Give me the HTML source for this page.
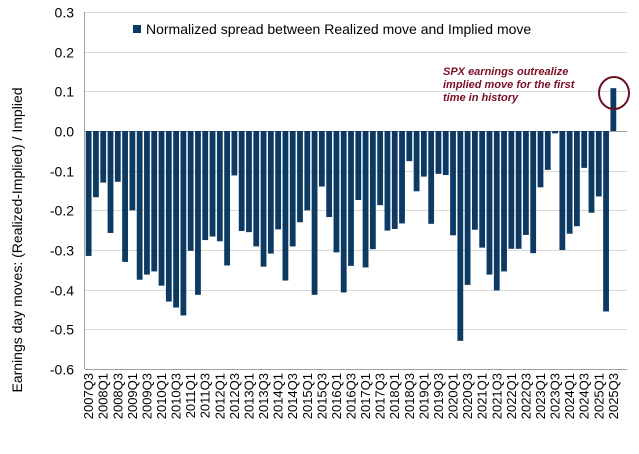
<!DOCTYPE html>
<html><head><meta charset="utf-8"><style>
body{margin:0;background:#fff;}
svg{display:block;font-family:"Liberation Sans",Arial,sans-serif;}
</style></head><body>
<svg id="chart" width="639" height="454" viewBox="0 0 639 454" xmlns="http://www.w3.org/2000/svg">
<g id="grid"></g>
<g id="bars"></g>
<g id="yticks"></g>
<g id="xticks"></g>
<line x1="84.5" y1="12" x2="84.5" y2="369" stroke="#a0a0a0" stroke-width="1"/>
<text transform="translate(22,240) rotate(-90)" text-anchor="middle" font-size="14" fill="#000">Earnings day moves: (Realized-Implied) / Implied</text>
<g>
<rect x="133" y="25" width="8" height="8" fill="#0d3a63"/>
<text x="146" y="34" font-size="14" fill="#000">Normalized spread between Realized move and Implied move</text>
</g>
<g font-size="11" font-style="italic" font-weight="bold" fill="#7a0e24">
<text x="443" y="75">SPX earnings outrealize</text>
<text x="443" y="88">implied move for the first</text>
<text x="443" y="101">time in history</text>
</g>
<ellipse cx="614" cy="93" rx="15" ry="16" fill="none" stroke="#6b0f1f" stroke-width="2"/>
<script>
const categories=[];
for(let y=2007;y<=2025;y++)for(let q=1;q<=4;q++){if((y===2007&&q<3)||(y===2025&&q>3))continue;categories.push(y+"Q"+q);}
const values=[-0.315,-0.167,-0.13,-0.257,-0.128,-0.33,-0.20,-0.375,-0.362,-0.354,-0.39,-0.43,-0.445,-0.465,-0.302,-0.413,-0.275,-0.266,-0.278,-0.339,-0.112,-0.252,-0.255,-0.291,-0.342,-0.309,-0.248,-0.377,-0.291,-0.23,-0.20,-0.413,-0.14,-0.217,-0.306,-0.407,-0.34,-0.174,-0.344,-0.298,-0.187,-0.251,-0.247,-0.233,-0.076,-0.152,-0.115,-0.234,-0.108,-0.111,-0.263,-0.529,-0.388,-0.249,-0.294,-0.362,-0.402,-0.354,-0.297,-0.297,-0.262,-0.308,-0.142,-0.098,-0.006,-0.30,-0.259,-0.24,-0.093,-0.206,-0.165,-0.455,0.108];
const yTicks=[0.3,0.2,0.1,0.0,-0.1,-0.2,-0.3,-0.4,-0.5,-0.6];
const NS="http://www.w3.org/2000/svg";
const x0=85,x1=617,yTop=12,yBot=369,vMax=0.3,vMin=-0.6;
const slot=(x1-x0)/categories.length;
const yS=v=>yTop+(vMax-v)/(vMax-vMin)*(yBot-yTop);
const xC=i=>x0+slot*(i+0.5);
function mk(t,a){const e=document.createElementNS(NS,t);for(const k in a)e.setAttribute(k,a[k]);return e;}
const grid=document.getElementById('grid'),yt=document.getElementById('yticks');
yTicks.forEach(v=>{
 const y=Math.round(yS(v))+0.5;
 const isZero=Math.abs(v)<1e-9, isBot=Math.abs(v-vMin)<1e-9;
 const l=mk('line',{x1:x0,x2:x1+10,y1:y,y2:y,stroke:(isZero||isBot)?'#a0a0a0':'#d9d9d9','stroke-width':1});
 
 
 grid.appendChild(l);
 const t=mk('text',{x:74,y:y+5,'text-anchor':'end','font-size':14,fill:'#000'});
 t.textContent=v.toFixed(1);
 
 
 yt.appendChild(t);
});
const bars=document.getElementById('bars');
values.forEach((v,i)=>{
 const ya=yS(v),yb=yS(0);
 const r=mk('rect',{x:xC(i)-2.9,y:Math.min(ya,yb),width:5.8,height:Math.max(Math.abs(ya-yb),0.8),fill:'#0d3a63'});
 
 
 bars.appendChild(r);
});
const xt=document.getElementById('xticks');
categories.forEach((c,i)=>{
 if(i%2!==0)return;
 const x=xC(i)+4.5;
 const t=mk('text',{transform:'translate('+x+',373) rotate(-90)','text-anchor':'end','font-size':13,fill:'#000'});
 t.textContent=c;
 
 
 xt.appendChild(t);
});
</script>
</svg>
</body></html>
